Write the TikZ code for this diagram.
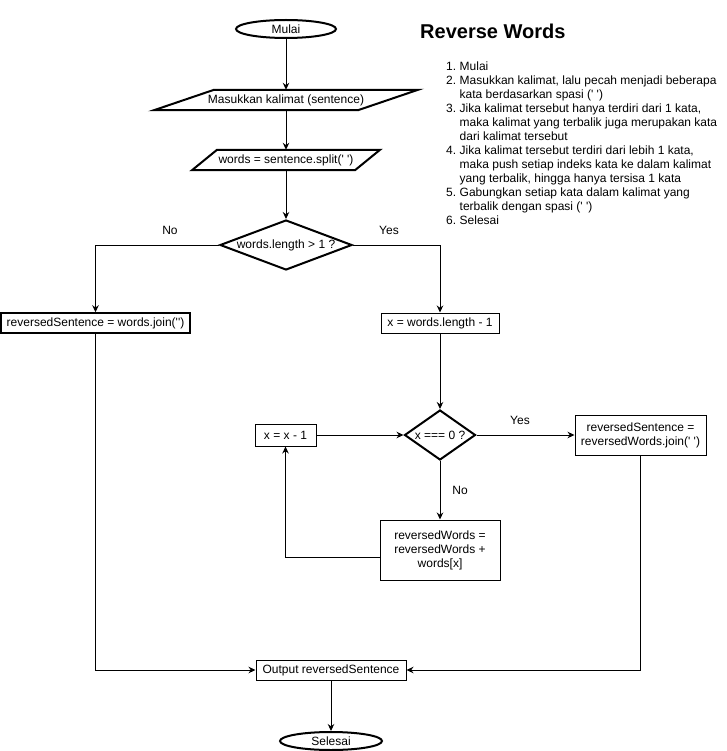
\documentclass[tikz,border=0pt]{standalone}
\usepackage{fontspec}
\setmainfont{Liberation Sans}
\usetikzlibrary{shapes.geometric,arrows.meta}
\newcommand\sq{\textquotesingle}
\begin{document}
\begin{tikzpicture}[x=1pt,y=-1pt,
  every node/.style={font=\fontsize{12}{14}\selectfont, inner sep=0pt},
  arr/.style={line width=1pt,-{Stealth[length=7pt,width=6.5pt]}},
  term/.style={ellipse,draw,line width=2pt,minimum width=100pt,minimum height=18pt},
  proc/.style={rectangle,draw,line width=1pt,align=center},
  dec/.style={diamond,draw,line width=2pt},
  para/.style={line width=2pt}]
\useasboundingbox (0,0) rectangle (726,751);

% title and steps
\node[anchor=west, font=\bfseries\fontsize{20}{24}\selectfont] (title) at (420,31) {Reverse Words};
\node[anchor=north west] (steps) at (446,61) {\begin{tabular}{@{}l@{\hspace{3.5pt}}l@{}}
1. & Mulai\\
2. & Masukkan kalimat, lalu pecah menjadi beberapa\\
   & kata berdasarkan spasi (\sq\ \sq)\\
3. & Jika kalimat tersebut hanya terdiri dari 1 kata,\\
   & maka kalimat yang terbalik juga merupakan kata\\
   & dari kalimat tersebut\\
4. & Jika kalimat tersebut terdiri dari lebih 1 kata,\\
   & maka push setiap indeks kata ke dalam kalimat\\
   & yang terbalik, hingga hanya tersisa 1 kata\\
5. & Gabungkan setiap kata dalam kalimat yang\\
   & terbalik dengan spasi (\sq\ \sq)\\
6. & Selesai
\end{tabular}};

% nodes
\node[term] (start) at (286,29) {Mulai};
\node[minimum width=204pt, minimum height=20pt] (in1) at (286,100) {Masukkan kalimat (sentence)};
\draw[para] ([xshift=-72pt]in1.north) -- ([xshift=132pt]in1.north) -- ([xshift=72pt]in1.south) -- ([xshift=-132pt]in1.south) -- cycle;
\node[minimum width=163pt, minimum height=20pt] (in2) at (286,160) {words = sentence.split(\sq\ \sq)};
\draw[para] ([xshift=-69pt]in2.north) -- ([xshift=94pt]in2.north) -- ([xshift=69pt]in2.south) -- ([xshift=-94pt]in2.south) -- cycle;
\node[dec, minimum width=132pt, minimum height=50pt] (d1) at (286,245) {\makebox[0pt]{words.length > 1 ?}};
\node[proc, line width=1.5pt, minimum width=189pt, minimum height=20pt] (lb) at (95.5,323) {reversedSentence = words.join(\sq\sq)};
\node[proc, minimum width=118pt, minimum height=20pt] (xl) at (440,323) {x = words.length - 1};
\node[dec, minimum width=71pt, minimum height=50pt] (d2) at (440,435) {\makebox[0pt]{x === 0 ?}};
\node[proc, minimum width=61pt, minimum height=22pt] (xm) at (285.5,435) {x = x - 1};
\node[proc, minimum width=131pt, minimum height=40pt] (rs) at (640.5,435) {reversedSentence =\\reversedWords.join(\sq\ \sq)};
\node[proc, minimum width=120pt, minimum height=60pt] (rw) at (440,550) {reversedWords =\\reversedWords +\\words[x]};
\node[proc, minimum width=150pt, minimum height=20pt] (out) at (331,670) {Output reversedSentence};
\node[term, minimum width=102pt] (end) at (331,741) {Selesai};

% labels
\node (no1) at (170,230) {No};
\node (yes1) at (389,230) {Yes};
\node (yes2) at (520,420) {Yes};
\node (no2) at (460,490) {No};

% connectors
\draw[arr] (start.south) -- (in1.north);
\draw[arr] (in1.south) -- (in2.north);
\draw[arr] (in2.south) -- (d1.north);
\draw[arr] (d1.west) -| (lb.north);
\draw[arr] (d1.east) -| (xl.north);
\draw[arr] (xl.south) -- (d2.north);
\draw[arr] (xm.east) -- (d2.west);
\draw[arr] (d2.east) -- (rs.west);
\draw[arr] (d2.south) -- (rw.north);
\draw[arr] ([yshift=-7pt]rw.west) -| (xm.south);
\draw[arr] (lb.south) |- (out.west);
\draw[arr] (rs.south) |- (out.east);
\draw[arr] (out.south) -- (end.north);
\end{tikzpicture}
\end{document}
